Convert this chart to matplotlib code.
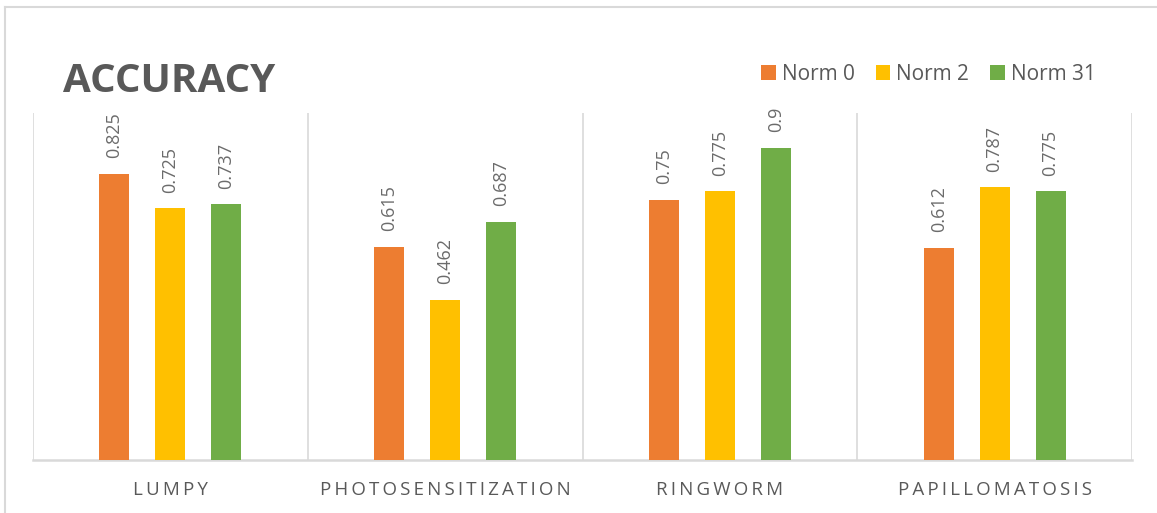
import numpy as np
import matplotlib.pyplot as plt
from matplotlib.lines import Line2D

plt.rcParams['font.family'] = ['Open Sans', 'DejaVu Sans']

categories = ["LUMPY", "PHOTOSENSITIZATION", "RINGWORM", "PAPILLOMATOSIS"]
series = ["Norm 0", "Norm 2", "Norm 31"]
norm0 = [0.825, 0.615, 0.75, 0.612]
norm2 = [0.725, 0.462, 0.775, 0.787]
norm31 = [0.737, 0.687, 0.9, 0.775]
colors = ["#ED7D31", "#FFC000", "#70AD47"]

text_color = "#595959"
line_color = "#D9D9D9"

W, H = 1157, 513
fig = plt.figure(figsize=(W / 100, H / 100), dpi=100)
ax = fig.add_axes([33 / W, 1 - 460 / H, (1132 - 33) / W, (460 - 113) / H])

x = np.arange(len(categories))
step = 0.2036
width = 0.109
for i, (vals, name, c) in enumerate(zip([norm0, norm2, norm31], series, colors)):
    bars = ax.bar(x + (i - 1) * step, vals, width, color=c, label=name, zorder=3)
    for b, v in zip(bars, vals):
        ax.annotate(str(v), (b.get_x() + b.get_width() / 2, v),
                    xytext=(0, 11), textcoords='offset points',
                    rotation=90, ha='center', va='bottom',
                    fontsize=13, color="#6b6b6b")

ax.set_xlim(-0.5, len(categories) - 0.5)
ax.set_ylim(0, 1.0)
for b in np.arange(-0.5, len(categories), 1.0):
    ax.axvline(b, color=line_color, lw=1.2, zorder=1)

for s in ['top', 'right', 'left']:
    ax.spines[s].set_visible(False)
ax.spines['bottom'].set_color(line_color)
ax.spines['bottom'].set_linewidth(1.8)
ax.set_yticks([])
ax.set_xticks(x)
# spaced-out capitals for the category names
ax.set_xticklabels(["\u2009".join(c) for c in categories], fontsize=13.5, color=text_color)
ax.tick_params(axis='x', length=0, pad=15)

fig.text(63 / W, 1 - 92 / H, "ACCURACY", fontsize=29, fontweight='bold',
         color=text_color, va='baseline', ha='left')

leg = fig.legend(loc='center left', bbox_to_anchor=(761 / W, 1 - 74 / H), ncol=3,
                 frameon=False, fontsize=15, handlelength=0.7, handleheight=0.7,
                 handletextpad=0.3, columnspacing=1.0, borderpad=0, borderaxespad=0)
for t in leg.get_texts():
    t.set_color(text_color)

# outer chart border (top and left edges)
fig.add_artist(Line2D([5 / W, 5 / W], [0, 1 - 7 / H], color=line_color, lw=1.5,
                      transform=fig.transFigure))
fig.add_artist(Line2D([5 / W, 1], [1 - 7 / H, 1 - 7 / H], color=line_color, lw=1.5,
                      transform=fig.transFigure))

fig.savefig("out.png", dpi=100)
